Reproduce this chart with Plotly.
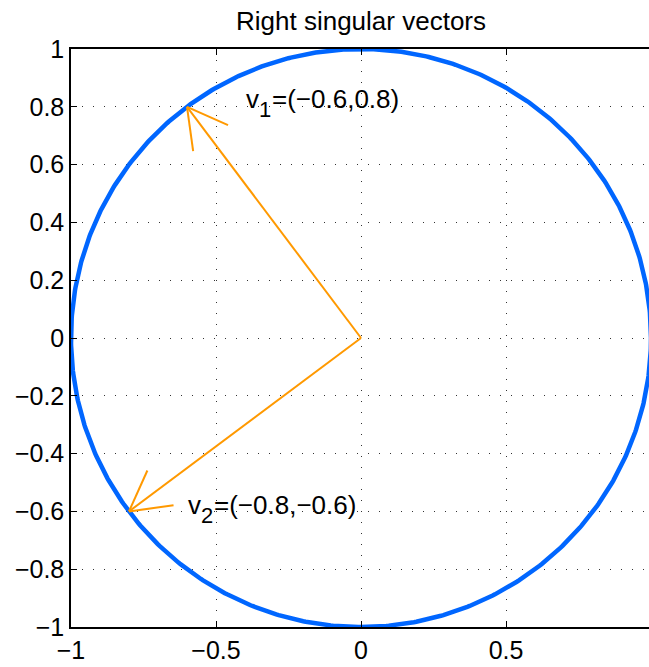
import numpy as np
import plotly.graph_objects as go

# ---- data ----
radius = 1.0
v1 = [-0.6, 0.8]
v2 = [-0.8, -0.6]
v1_name, v1_sub, v1_rest = "v", "1", "=(−0.6,0.8)"
v2_name, v2_sub, v2_rest = "v", "2", "=(−0.8,−0.6)"
label_pos_v1 = [-0.400, 0.826]
label_pos_v2 = [-0.600, -0.578]
x_tickvals = [-1, -0.5, 0, 0.5, 1]
x_ticktext = ["−1", "−0.5", "0", "0.5", "1"]
y_tickvals = [-1, -0.8, -0.6, -0.4, -0.2, 0, 0.2, 0.4, 0.6, 0.8, 1]
y_ticktext = ["−1", "−0.8", "−0.6", "−0.4", "−0.2", "0", "0.2", "0.4", "0.6", "0.8", "1"]
title_text = "Right singular vectors"

BLUE = "rgb(0,102,255)"
ORANGE = "rgb(255,153,0)"
FONT = "Liberation Sans, Arial, Helvetica, sans-serif"

W, H = 649, 667
ML, MR, MT, MB = 71, 0, 49, 40
X_RANGE = [-1, 0.993]
Y_RANGE = [-1, 1]
plot_w = W - ML - MR
plot_h = H - MT - MB
px_x = plot_w / (X_RANGE[1] - X_RANGE[0])   # pixels per data unit (x)
px_y = plot_h / (Y_RANGE[1] - Y_RANGE[0])   # pixels per data unit (y)

fig = go.Figure()

# unit circle
theta = np.linspace(0, 2 * np.pi, 721)
fig.add_trace(go.Scatter(x=radius * np.cos(theta), y=radius * np.sin(theta),
                         mode="lines", line=dict(color=BLUE, width=4.5),
                         hoverinfo="skip", showlegend=False))


def arrow(v, head_len=0.155, head_ang=np.deg2rad(29)):
    vx, vy = v
    n = np.hypot(vx, vy)
    bx, by = -vx / n, -vy / n  # back direction
    pts_x, pts_y = [0, vx, None], [0, vy, None]
    for s in (1, -1):
        c, si = np.cos(s * head_ang), np.sin(s * head_ang)
        hx = bx * c - by * si
        hy = bx * si + by * c
        pts_x += [vx, vx + head_len * hx, None]
        pts_y += [vy, vy + head_len * hy, None]
    return pts_x, pts_y


for v in (v1, v2):
    ax_, ay_ = arrow(v)
    fig.add_trace(go.Scatter(x=ax_, y=ay_, mode="lines",
                             line=dict(color=ORANGE, width=2),
                             hoverinfo="skip", showlegend=False))

MAIN_SIZE = 26
SUB_SIZE = 22
for (nm, sb, rest), pos in (((v1_name, v1_sub, v1_rest), label_pos_v1),
                            ((v2_name, v2_sub, v2_rest), label_pos_v2)):
    x0, y0 = pos
    common = dict(xref="x", yref="y", showarrow=False, xanchor="left",
                  yanchor="middle", borderpad=0)
    fig.add_annotation(x=x0, y=y0, text=nm,
                       font=dict(family=FONT, size=MAIN_SIZE, color="black"), **common)
    fig.add_annotation(x=x0 + 13 / px_x, y=y0 - 10 / px_y, text=sb,
                       font=dict(family=FONT, size=SUB_SIZE, color="black"), **common)
    fig.add_annotation(x=x0 + 25.5 / px_x, y=y0, text=rest,
                       font=dict(family=FONT, size=MAIN_SIZE, color="black"), **common)

axis_common = dict(
    showline=True, linecolor="black", linewidth=1.5,
    ticks="inside", ticklen=6, tickcolor="black", tickwidth=1,
    showgrid=True, gridcolor="#333", gridwidth=1, griddash="1px,10px",
    zeroline=False, tickfont=dict(family=FONT, size=25, color="black"),
)

fig.update_xaxes(range=X_RANGE, tickvals=x_tickvals, ticktext=x_ticktext,
                 mirror="ticks", **axis_common)
fig.update_yaxes(range=Y_RANGE, tickvals=y_tickvals, ticktext=y_ticktext,
                 mirror=False, **axis_common)

fig.update_layout(
    width=W, height=H,
    margin=dict(l=ML, r=MR, t=MT, b=MB),
    paper_bgcolor="white", plot_bgcolor="white",
    title=dict(text=title_text,
               x=(0 - X_RANGE[0]) / (X_RANGE[1] - X_RANGE[0]), xref="paper", xanchor="center",
               y=1 - 21 / H, yref="container", yanchor="middle",
               font=dict(family=FONT, size=26, color="black")),
)

fig.write_html("out.html")
